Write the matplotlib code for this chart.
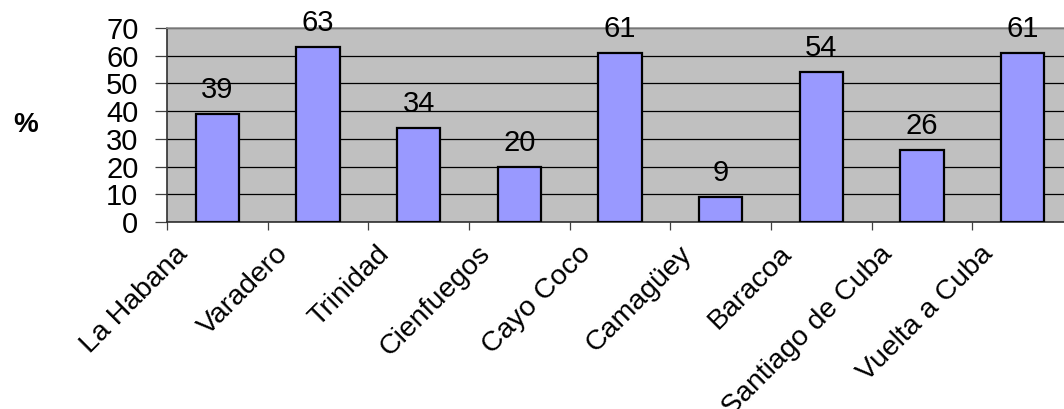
import matplotlib
matplotlib.use("Agg")
import matplotlib.pyplot as plt
import matplotlib.transforms as mtransforms

plt.rcParams['font.family'] = ['Liberation Sans', 'DejaVu Sans']

places = ["La Habana", "Varadero", "Trinidad", "Cienfuegos", "Cayo Coco",
          "Camagüey", "Baracoa", "Santiago de Cuba", "Vuelta a Cuba"]
percent = [39, 63, 34, 20, 61, 9, 54, 26, 61]
yticks = [0, 10, 20, 30, 40, 50, 60, 70]

fig = plt.figure(figsize=(10.64, 4.09), dpi=100)
# plot area runs past the right edge, as in the reference
ax = fig.add_axes([167 / 1064, (409 - 222) / 409, 906 / 1064, 194 / 409])
ax.set_facecolor('#c0c0c0')

pos = [i + 0.5 for i in range(len(places))]
bars = ax.bar(pos, percent, width=0.43, color='#9999ff', edgecolor='black',
              linewidth=1.6, zorder=3)

for x, v in zip(pos, percent):
    ax.annotate(str(v), (x, v), xytext=(0, 11.5), textcoords='offset points',
                ha='center', va='baseline', fontsize=21)

ax.set_xlim(0, len(places))
ax.set_ylim(0, 70)
ax.set_yticks(yticks)
ax.set_yticklabels([str(t) for t in yticks], fontsize=21)
ax.yaxis.grid(True, color='black', linewidth=0.9, zorder=1)
ax.set_axisbelow(True)

# category names sit at the tick marks, shifted right/down like the original
ax.set_xticks(range(len(places)))
ax.set_xticklabels([])
shift = mtransforms.ScaledTranslation(22 / 100, -33 / 100, fig.dpi_scale_trans)
trans = mtransforms.blended_transform_factory(ax.transData, ax.transAxes) + shift
for i, name in enumerate(places):
    ax.text(i, 0, name, transform=trans, fontsize=20.5, rotation=45,
            ha='right', va='baseline', rotation_mode='anchor', clip_on=False)

ax.tick_params(axis='x', length=6, width=0.9, color='#404040')
ax.tick_params(axis='y', length=8.6, width=0.9, color='#404040', pad=12)

ax.spines['left'].set_color('#303030')
ax.spines['bottom'].set_color('#303030')
ax.spines['top'].set_color('#909090')
ax.spines['right'].set_visible(False)
for s in ax.spines.values():
    s.set_linewidth(1.2)

fig.text(26 / 1064, 1 - 125 / 409, '%', fontsize=20, fontweight='bold',
         ha='center', va='center')

fig.savefig('out.png', dpi=100)
